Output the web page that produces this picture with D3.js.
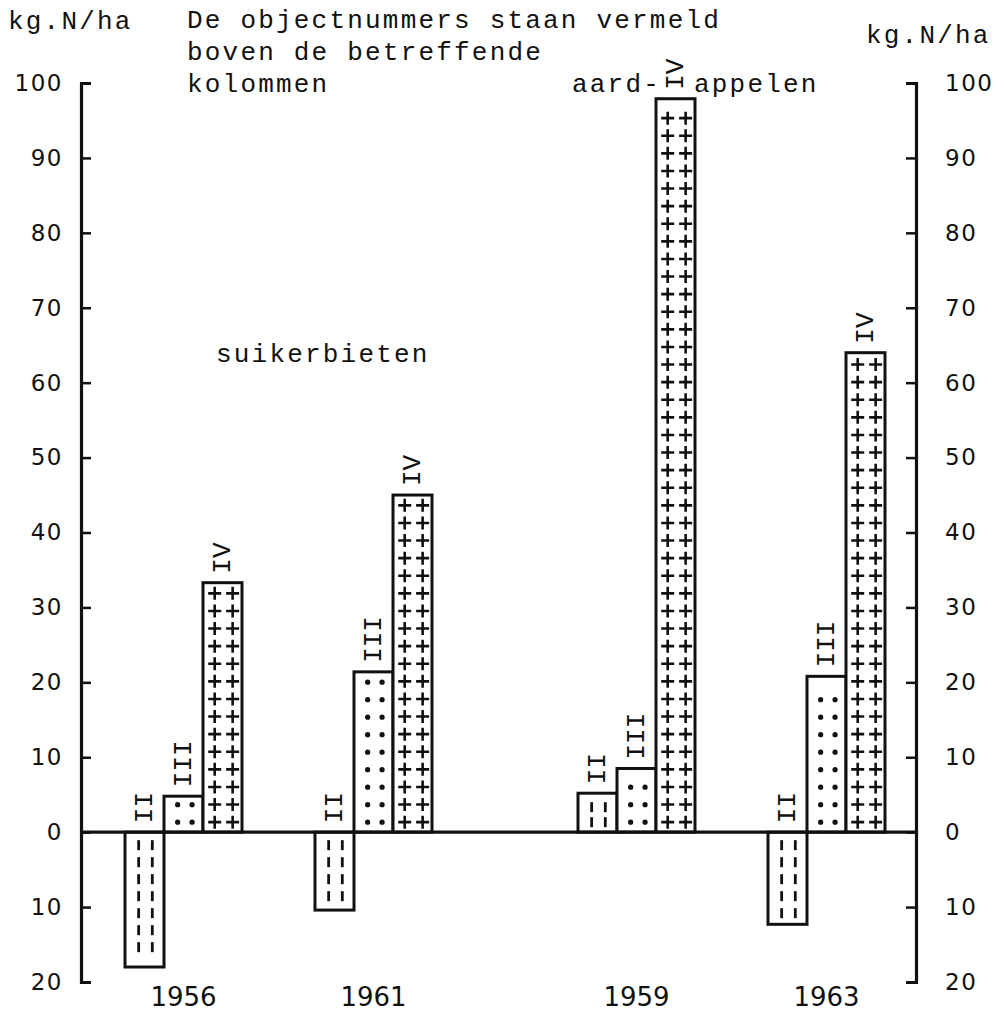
<!DOCTYPE html>
<html>
<head>
<meta charset="utf-8">
<script src="https://cdn.jsdelivr.net/npm/d3@7"></script>
<style>
  body { margin: 0; background: #fff; }
  .mono { font-family: 'Liberation Mono', 'DejaVu Sans Mono', monospace; fill: #111; }
  .axis text { font-family: 'DejaVu Sans', sans-serif; font-size: 23px; letter-spacing: 1.5px; fill: #111; }
  .year { font-family: 'DejaVu Sans', sans-serif; font-size: 26px; fill: #111; }
</style>
</head>
<body>
<div id="chart"></div>
<script>
// years per column group, crop per group
const years = ['1956', '1961', '1959', '1963'];
const crops = ['suikerbieten', 'suikerbieten', 'aardappelen', 'aardappelen'];
const objects = ['II', 'III', 'IV'];

// kg N/ha per object (negative = below zero line)
const valuesII = [-18, -10.4, 5.2, -12.3];
const valuesIII = [4.8, 21.4, 8.5, 20.8];
const valuesIV = [33.3, 45.0, 97.9, 64.0];

const yTicks = [-20, -10, 0, 10, 20, 30, 40, 50, 60, 70, 80, 90, 100];

const noteLines = ['De objectnummers staan vermeld', 'boven de betreffende', 'kolommen'];

const width = 1005;
const height = 1014;
const margin = { top: 83, right: 89, bottom: 32, left: 81 };

const svg = d3.select('#chart')
  .append('svg')
  .attr('width', width)
  .attr('height', height);

const y = d3.scaleLinear()
  .domain([-20, 100])
  .range([height - margin.bottom, margin.top]);

const xGroup = d3.scalePoint()
  .domain(years)
  .range([125, 695]);
const cropGap = 73;
const groupX = (yr, i) => xGroup(yr) + (crops[i] === 'aardappelen' ? cropGap : 0);

const xObj = d3.scaleBand()
  .domain(objects)
  .range([0, 117]);
const bw = xObj.bandwidth();

const seriesByObj = { II: valuesII, III: valuesIII, IV: valuesIV };
const bars = years.flatMap((yr, i) => objects.map(o => ({
  year: yr,
  obj: o,
  value: seriesByObj[o][i],
  x0: groupX(yr, i) + xObj(o)
})));

// rows of fill glyphs, counted from the zero line into the bar
function rows(d, first, step, endPad) {
  const len = Math.abs(y(d.value) - y(0));
  const dir = d.value >= 0 ? -1 : 1;
  return d3.range(first, len - endPad, step).map(r => y(0) + dir * r);
}

const barG = svg.append('g');

barG.selectAll('rect')
  .data(bars)
  .join('rect')
  .attr('x', d => d.x0)
  .attr('y', d => y(Math.max(0, d.value)))
  .attr('width', bw)
  .attr('height', d => Math.abs(y(d.value) - y(0)))
  .attr('fill', '#fff')
  .attr('stroke', '#111')
  .attr('stroke-width', 3);

// II: dashed verticals
bars.filter(d => d.obj === 'II').forEach(d => {
  const dir = d.value >= 0 ? -1 : 1;
  const ys = d.value >= 0 ? rows(d, 5, 15, 14) : rows(d, 8, 17, 14);
  [0.35, 0.7].forEach(f => {
    barG.selectAll(null)
      .data(ys)
      .join('line')
      .attr('x1', d.x0 + bw * f)
      .attr('x2', d.x0 + bw * f)
      .attr('y1', v => v)
      .attr('y2', v => v + dir * 10)
      .attr('stroke', '#111')
      .attr('stroke-width', 2.8);
  });
});

// III: dots
bars.filter(d => d.obj === 'III').forEach(d => {
  const ys = rows(d, 10, 17.5, 8);
  [0.35, 0.72].forEach(f => {
    barG.selectAll(null)
      .data(ys)
      .join('circle')
      .attr('cx', d.x0 + bw * f)
      .attr('cy', v => v)
      .attr('r', 2.6)
      .attr('fill', '#111');
  });
});

// IV: crosses
bars.filter(d => d.obj === 'IV').forEach(d => {
  const ys = rows(d, 10, 17.6, 10);
  [0.3, 0.76].forEach(f => {
    const cx = d.x0 + bw * f;
    barG.selectAll(null)
      .data(ys)
      .join('path')
      .attr('d', v => `M${cx - 6.5},${v}H${cx + 6.5}M${cx},${v - 6.5}V${v + 6.5}`)
      .attr('stroke', '#111')
      .attr('stroke-width', 2.6)
      .attr('fill', 'none');
  });
});

// object labels, rotated, above each column
barG.selectAll('text.obj')
  .data(bars)
  .join('text')
  .attr('class', 'obj mono')
  .attr('font-size', 26)
  .attr('dominant-baseline', 'central')
  .attr('transform', d => `translate(${d.x0 + bw / 2},${y(Math.max(0, d.value)) - 9}) rotate(-90)`)
  .text(d => d.obj);

// zero line
svg.append('line')
  .attr('x1', margin.left)
  .attr('x2', width - margin.right)
  .attr('y1', y(0))
  .attr('y2', y(0))
  .attr('stroke', '#111')
  .attr('stroke-width', 3.2);

const fmt = v => Math.abs(v);

svg.append('g')
  .attr('class', 'axis')
  .attr('transform', `translate(${margin.left},0)`)
  .call(d3.axisLeft(y).tickValues(yTicks).tickFormat(fmt)
    .tickSize(-10).tickSizeOuter(-10).tickPadding(18))
  .call(g => g.select('.domain').attr('stroke', '#111').attr('stroke-width', 3.2))
  .call(g => g.selectAll('.tick line').attr('stroke', '#111').attr('stroke-width', 2.5));

svg.append('g')
  .attr('class', 'axis')
  .attr('transform', `translate(${width - margin.right},0)`)
  .call(d3.axisRight(y).tickValues(yTicks).tickFormat(fmt)
    .tickSize(-10).tickSizeOuter(-10).tickPadding(29))
  .call(g => g.select('.domain').attr('stroke', '#111').attr('stroke-width', 3.2))
  .call(g => g.selectAll('.tick line').attr('stroke', '#111').attr('stroke-width', 2.5));

// years under groups
svg.selectAll('text.year')
  .data(years)
  .join('text')
  .attr('class', 'year')
  .attr('text-anchor', 'middle')
  .attr('x', (yr, i) => groupX(yr, i) + 117 / 2)
  .attr('y', 1006)
  .text(d => d);

// typed annotations
const typed = (txt, x, yy) => svg.append('text')
  .attr('class', 'mono')
  .attr('font-size', 26)
  .attr('letter-spacing', 2.2)
  .attr('x', x)
  .attr('y', yy)
  .text(txt);

typed('kg.N/ha', 8, 29);
typed('kg.N/ha', 866, 43);
noteLines.forEach((t, i) => typed(t, 187, 28 + i * 32));
typed('aard-', 572, 92);
typed('appelen', 694, 92);
typed('suikerbieten', 216, 362);
</script>
</body>
</html>
